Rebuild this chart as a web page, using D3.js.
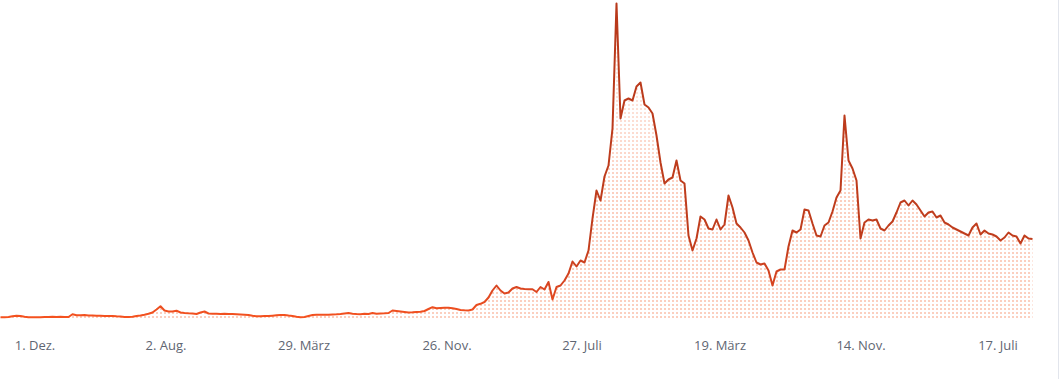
<!DOCTYPE html>
<html><head><meta charset="utf-8">
<script src="https://cdn.jsdelivr.net/npm/d3@7"></script>
<style>body{margin:0;background:#fff;} svg{display:block;}</style>
</head><body>
<svg id="c" width="1060" height="379"></svg>
<script>
// Series values (evenly spaced observations, arbitrary units)
const values = [
1.3,1.3,1.5,2.2,2.7,2.5,1.7,1.3,1.2,1.2,
1.3,1.4,1.5,1.7,1.6,1.7,1.6,1.5,4.3,3.3,
3.2,3.4,3.0,3.0,2.7,2.8,2.6,2.4,2.5,2.2,
2.0,1.5,1.5,1.8,2.5,3.0,3.8,4.7,6.0,9.0,
12.2,8.0,7.0,7.0,7.8,6.0,5.5,5.2,5.0,4.5,
6.0,7.0,5.0,4.7,4.7,4.5,4.8,4.6,4.4,4.2,
4.0,3.8,3.5,2.7,2.3,2.3,2.4,2.4,2.8,3.2,
3.6,3.6,3.0,2.5,1.8,1.3,1.5,2.5,3.5,3.7,
3.7,3.8,3.7,4.0,4.2,4.5,5.0,5.4,4.8,4.4,
4.2,4.7,4.5,5.5,4.8,5.0,5.2,5.5,8.0,7.5,
7.0,6.5,6.0,6.2,6.5,6.7,7.5,9.5,11.3,10.2,
10.5,10.8,10.8,10.2,9.5,8.5,8.2,8.0,9.0,13.5,
14.7,16.5,21,28,33,28,25,26,30,31.5,
30,29.5,29.3,29.3,26.5,31.5,29,36.5,19,31.5,
33,38,45,57,52,58,56,68,100,128,
118,142,153,190,315,200,218,220,218,232,
236,214,211,205,183,156,135,139,141,158,
138,135,83,68,80,102,99,90,89,99,
89,94,123,111,95,91,86,78,66,56,
54,55,48,33,47,49,49,72,88,86,
89,109,108,95,83,82,93,96,107,121,
128,203,158,150,138,80,96,99,98,99,
90,88,93,97,106,116,118,113,118,114,
108,102,106,107,101,103,96,94,91,89,
87,85,83,91,95,84,88,85,84,82,
78,81,86,83,82,75,83,80,79.5
];
// Tick labels and their positions (in observation index units)
const tickLabels = ["1. Dez.","2. Aug.","29. März","26. Nov.","27. Juli","19. März","14. Nov.","17. Juli"];
const tickIndex  = [8.5, 41.25, 75.75, 111.5, 145.25, 179.75, 215, 249.25];

const svg = d3.select("#c");
const x = d3.scaleLinear().domain([0, values.length - 1]).range([0.5, 1032.5]);
const y = d3.scaleLinear().domain([0, 316]).range([318.5, 2.5]);

const defs = svg.append("defs");
const pat = defs.append("pattern").attr("id","dots").attr("patternUnits","userSpaceOnUse")
  .attr("width",4).attr("height",4);
pat.append("rect").attr("x",0).attr("y",0).attr("width",2).attr("height",2).attr("fill","#fbcfbf");

const fade = defs.append("linearGradient").attr("id","fade").attr("gradientUnits","userSpaceOnUse")
  .attr("x1",0).attr("y1",0).attr("x2",0).attr("y2",320);
fade.append("stop").attr("offset","0").attr("stop-color","#fff").attr("stop-opacity",0.15);
fade.append("stop").attr("offset","0.6").attr("stop-color","#fff").attr("stop-opacity",1);
fade.append("stop").attr("offset","1").attr("stop-color","#fff").attr("stop-opacity",1);
defs.append("mask").attr("id","m").append("rect").attr("x",0).attr("y",0).attr("width",1060).attr("height",379).attr("fill","url(#fade)");

const lg = defs.append("linearGradient").attr("id","lineGrad").attr("gradientUnits","userSpaceOnUse")
  .attr("x1",0).attr("y1",318).attr("x2",0).attr("y2",0);
lg.append("stop").attr("offset","0").attr("stop-color","#f5521f");
lg.append("stop").attr("offset","0.1").attr("stop-color","#d84521");
lg.append("stop").attr("offset","0.25").attr("stop-color","#c03d1d");
lg.append("stop").attr("offset","1").attr("stop-color","#b8391b");

const area = d3.area().x((d,i)=>x(i)).y0(y(0)).y1(d=>y(d));
const line = d3.line().x((d,i)=>x(i)).y(d=>y(d));

svg.append("path").datum(values).attr("d",area).attr("fill","url(#dots)").attr("mask","url(#m)");
svg.append("path").datum(values).attr("d",line).attr("fill","none")
  .attr("stroke","url(#lineGrad)").attr("stroke-width",2).attr("stroke-linejoin","round");

const ax = svg.append("g").attr("transform","translate(0,318)")
  .call(d3.axisBottom(x).tickValues(tickIndex).tickFormat((d,i)=>tickLabels[i]).tickSize(0).tickPadding(23));
ax.select(".domain").remove();
ax.selectAll("text").attr("fill","#5f6672").attr("font-size","13px").attr("font-family","'Open Sans', sans-serif");

svg.append("line").attr("x1",1058.5).attr("x2",1058.5).attr("y1",0).attr("y2",379)
  .attr("stroke","#e2e5ec").attr("stroke-width",1);
</script>
</body></html>
